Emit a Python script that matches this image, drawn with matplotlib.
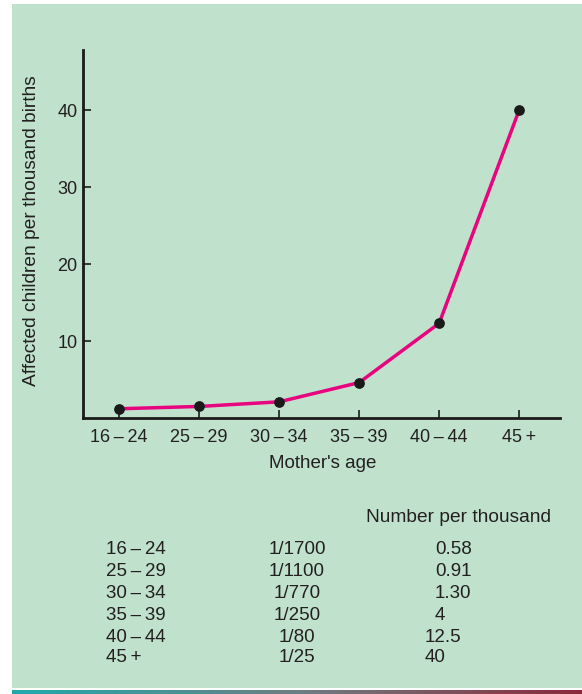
import numpy as np
import matplotlib
matplotlib.use("Agg")
import matplotlib.pyplot as plt
from matplotlib.patches import Rectangle
from matplotlib.colors import LinearSegmentedColormap

plt.rcParams['font.family'] = ['Liberation Sans', 'DejaVu Sans']

# data
age_groups = ['16\u2009\u2013\u200924', '25\u2009\u2013\u200929', '30\u2009\u2013\u200934',
              '35\u2009\u2013\u200939', '40\u2009\u2013\u200944', '45\u2009+']
affected = [1.2, 1.5, 2.1, 4.6, 12.3, 40.0]
y_ticks = [10, 20, 30, 40]

# table under the chart
ratio = ['1/1700', '1/1100', '1/770', '1/250', '1/80', '1/25']
per_thousand = ['0.58', '0.91', '1.30', '4', '12.5', '40']

TEXT = '#231f20'
GREEN = '#c0e2cc'
PINK = '#e8037f'

W, H = 582, 694
fig = plt.figure(figsize=(W / 100, H / 100), dpi=100)
fig.patch.set_facecolor('white')

# green panel behind everything
bg = fig.add_axes([0, 0, 1, 1], zorder=-5)
bg.set_xlim(0, W)
bg.set_ylim(H, 0)
bg.axis('off')
bg.add_patch(Rectangle((12, 4), W - 12, 684, facecolor=GREEN, edgecolor='none'))

# gradient strip at the bottom
strip = fig.add_axes([12 / W, 0, (W - 12) / W, 4 / H])
grad = np.linspace(0, 1, 256).reshape(1, -1)
cmap = LinearSegmentedColormap.from_list('strip', ['#1fa9ad', '#6e7f82', '#8a2a3c'])
strip.imshow(grad, aspect='auto', cmap=cmap)
strip.axis('off')

# main axes: x-axis at y=418, left at x=83
x0, x1 = 83, 560
y_top, y_bot = 50, 418
ax = fig.add_axes([x0 / W, 1 - y_bot / H, (x1 - x0) / W, (y_bot - y_top) / H])
ax.set_facecolor('none')
xs = np.arange(len(age_groups))
ax.plot(xs, affected, color=PINK, lw=2.5, zorder=2, solid_capstyle='round')
ax.scatter(xs, affected, s=45, color='#1a1a1a', zorder=3, clip_on=False)

ax.set_xlim(-0.45, 5.51)
ax.set_ylim(0, 47.8)
ax.set_xticks(xs)
ax.set_xticklabels(age_groups, fontsize=13, color=TEXT)
ax.set_yticks(y_ticks)
ax.set_yticklabels([str(v) for v in y_ticks], fontsize=13, color=TEXT)
ax.tick_params(direction='in', length=6, width=1.2, color='#1a1a1a', pad=4)
ax.tick_params(axis='x', pad=8)
for s in ['top', 'right']:
    ax.spines[s].set_visible(False)
for s in ['left', 'bottom']:
    ax.spines[s].set_linewidth(2)
    ax.spines[s].set_color('#1a1a1a')

fig.text(323 / W, 1 - 463 / H, "Mother's age", ha='center', va='center',
         fontsize=13.5, color=TEXT)
fig.text(32 / W, 1 - 231 / H, 'Affected children per thousand births', ha='center',
         va='center', rotation=90, fontsize=13.8, color=TEXT)

# table
fig.text(366 / W, 1 - 517 / H, 'Number per thousand', ha='left', va='center',
         fontsize=13.8, color=TEXT)
row_y = [549, 571, 593, 615, 637, 658]
col3_x = [435, 435, 435, 435, 425, 425]
for i in range(len(age_groups)):
    y = 1 - row_y[i] / H
    fig.text(106 / W, y, age_groups[i], ha='left', va='center', fontsize=13.5, color=TEXT)
    fig.text(297 / W, y, ratio[i], ha='center', va='center', fontsize=13.5, color=TEXT)
    fig.text(col3_x[i] / W, y, per_thousand[i], ha='left', va='center', fontsize=13.5, color=TEXT)

fig.savefig('out.png', dpi=100, facecolor=fig.get_facecolor())
